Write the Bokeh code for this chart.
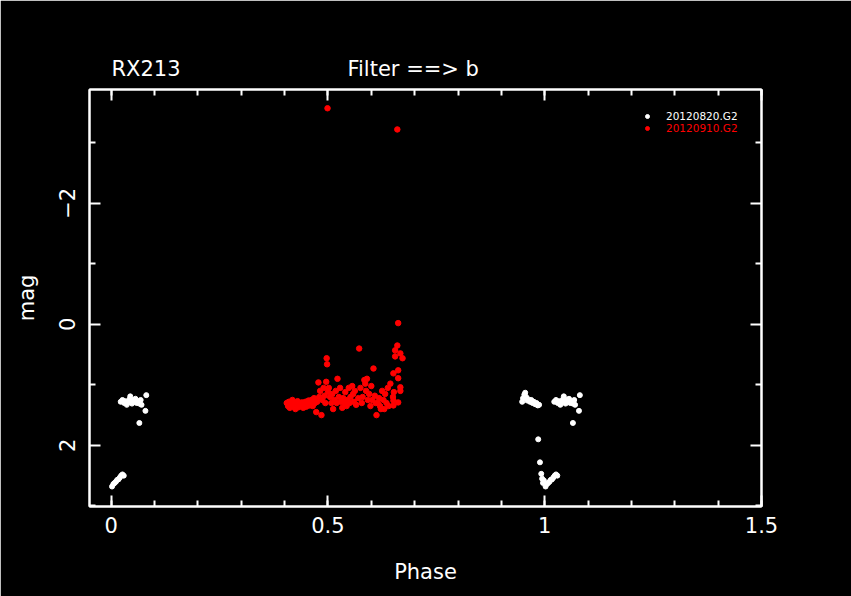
from bokeh.plotting import figure
from bokeh.models import (Range1d, FixedTicker, LinearAxis, Legend, LegendItem,
                          ColumnDataSource, Title)
from bokeh.embed import file_html
from bokeh.resources import INLINE

# ---------------- data ----------------
# 20120820.G2 (white): points seen only near phase 1 (0.95-1.0)
white_phase = [0.948, 0.950, 0.953, 0.955, 0.957, 0.960, 0.963, 0.966, 0.969, 0.972,
               0.975, 0.978, 0.981, 0.984, 0.987,
               0.985, 0.989, 0.992, 0.994, 0.996, 0.998]
white_mag = [1.28, 1.22, 1.16, 1.13, 1.20, 1.26, 1.24, 1.28, 1.25, 1.30,
             1.28, 1.32, 1.30, 1.34, 1.33,
             1.90, 2.28, 2.47, 2.55, 2.62, 2.58]
# 20120820.G2 (white): phases 0-0.08, plotted at phase and phase + 1
white_phase0 = [0.002, 0.005, 0.008, 0.011, 0.014, 0.017, 0.020, 0.023, 0.026, 0.029,
                0.022, 0.026, 0.030, 0.033, 0.036, 0.039, 0.042, 0.044, 0.046, 0.048,
                0.050, 0.053, 0.056, 0.059, 0.062, 0.065, 0.068, 0.070, 0.081, 0.079, 0.065]
white_mag0 = [2.68, 2.64, 2.62, 2.60, 2.57, 2.56, 2.53, 2.50, 2.48, 2.50,
              1.28, 1.25, 1.30, 1.27, 1.33, 1.29, 1.24, 1.19, 1.27, 1.31,
              1.25, 1.28, 1.23, 1.30, 1.27, 1.31, 1.25, 1.33, 1.17, 1.43, 1.63]

# 20120910.G2 (red)
red_phase = [0.405, 0.408, 0.410, 0.412, 0.415, 0.418, 0.420, 0.423, 0.425, 0.428,
             0.430, 0.432, 0.435, 0.438, 0.440, 0.443, 0.445, 0.448, 0.450, 0.453,
             0.455, 0.458, 0.460, 0.462, 0.465, 0.468, 0.470, 0.473, 0.475, 0.478,
             0.480, 0.482, 0.485, 0.487, 0.490, 0.492, 0.494, 0.496, 0.497, 0.498,
             0.499, 0.500, 0.502, 0.505, 0.508, 0.510, 0.512, 0.515, 0.518, 0.520,
             0.522, 0.525, 0.528, 0.530, 0.533, 0.535, 0.538, 0.540, 0.543, 0.545,
             0.548, 0.550, 0.552, 0.556, 0.558, 0.560, 0.562, 0.565, 0.572, 0.570,
             0.575, 0.578, 0.580, 0.584, 0.586, 0.588, 0.590, 0.592, 0.595, 0.598,
             0.600, 0.602, 0.605, 0.608, 0.610, 0.612, 0.615, 0.618, 0.620, 0.622,
             0.625, 0.628, 0.630, 0.632, 0.635, 0.638, 0.640, 0.644, 0.651, 0.655,
             0.655, 0.660, 0.660, 0.662, 0.662, 0.667, 0.672, 0.662, 0.651, 0.667,
             0.652, 0.667, 0.651, 0.662, 0.650]
red_mag = [1.30, 1.35, 1.28, 1.38, 1.32, 1.25, 1.36, 1.30, 1.40, 1.33,
           1.27, 1.37, 1.31, 1.35, 1.29, 1.38, 1.33, 1.28, 1.36, 1.30,
           1.26, 1.34, 1.30, 1.25, 1.35, 1.22, 1.30, 1.45, 1.28, 0.96,
           1.20, 1.10, 1.50, 1.25, 1.05, 1.18, 1.30, 0.95, 0.56, 0.66,
           -3.57, 1.12, 1.05, 1.20, 1.30, 1.15, 1.40, 1.25, 1.10, 1.30,
           0.90, 1.20, 1.05, 1.28, 1.38, 1.22, 1.30, 1.12, 1.35, 1.25,
           1.05, 1.30, 1.20, 1.02, 1.15, 1.28, 1.10, 1.33, 0.40, 1.22,
           1.05, 1.30, 1.20, 0.92, 0.98, 1.10, 0.90, 1.25, 1.15, 1.35,
           1.02, 1.25, 0.73, 1.18, 1.30, 1.50, 1.30, 1.22, 1.35, 1.40,
           1.10, 1.25, 1.40, 1.15, 1.30, 1.05, 1.35, 0.98, 0.81, 0.43,
           0.53, 0.35, -3.22, -0.02, 0.76, 0.48, 0.56, 0.89, 1.26, 1.10,
           1.12, 1.04, 1.34, 1.29, 1.20]

legend_labels = ["20120820.G2", "20120910.G2"]
object_name = "RX213"
filter_text = "Filter ==> b"
x_major = [0, 0.5, 1, 1.5]
x_minor = [round(0.1 * i, 1) for i in range(0, 16)]
y_major = [-2, 0, 2]
y_minor = [-3, -1, 1, 3]

FONT = "DejaVu Sans"
BIG = "21px"

p = figure(width=851, height=596, output_backend="svg", toolbar_location=None,
           x_range=Range1d(-0.05, 1.5), y_range=Range1d(3.01, -3.88),
           background_fill_color="black", border_fill_color="black",
           min_border_left=89, min_border_right=90, min_border_top=89, min_border_bottom=90,
           x_axis_label="Phase", y_axis_label="mag")
p.frame_width = 672
p.frame_height = 417
p.grid.visible = False
p.outline_line_color = "white"
p.outline_line_width = 2

# title line: object name and filter on one line (non-breaking spaces keep the gap)
p.title = Title(text=object_name + "\u00a0" * 25 + filter_text, align="left", offset=22,
                text_color="white", text_font=FONT, text_font_size=BIG,
                text_font_style="normal", standoff=18)

ws = ColumnDataSource(dict(x=white_phase0 + [v + 1 for v in white_phase0] + white_phase,
                           y=white_mag0 + white_mag0 + white_mag))
rs = ColumnDataSource(dict(x=red_phase, y=red_mag))
rw = p.scatter("x", "y", source=ws, size=5, color="white")
rr = p.scatter("x", "y", source=rs, size=5.5, color="red")


def style_axis(ax, ticks, minor, labels=True):
    ax.ticker = FixedTicker(ticks=ticks, minor_ticks=minor)
    ax.axis_line_color = "white"
    ax.axis_line_width = 2
    ax.major_tick_line_color = "white"
    ax.minor_tick_line_color = "white"
    ax.major_tick_line_width = 2
    ax.minor_tick_line_width = 2
    ax.major_tick_in = 11
    ax.major_tick_out = 0
    ax.minor_tick_in = 6
    ax.minor_tick_out = 0
    ax.major_label_text_color = "white"
    ax.major_label_text_font = FONT
    ax.major_label_text_font_size = BIG
    ax.axis_label_text_color = "white"
    ax.axis_label_text_font = FONT
    ax.axis_label_text_font_size = BIG
    ax.axis_label_text_font_style = "normal"
    if not labels:
        ax.major_label_text_color = None
        ax.major_label_text_font_size = "1px"
        ax.major_label_standoff = 0


style_axis(p.xaxis[0], x_major, x_minor)
style_axis(p.yaxis[0], y_major, y_minor)
p.xaxis[0].major_label_standoff = 10
p.xaxis[0].axis_label_standoff = 24
p.yaxis[0].major_label_orientation = "vertical"
p.yaxis[0].major_label_standoff = 14
p.yaxis[0].axis_label_standoff = 18

top = LinearAxis()
style_axis(top, x_major, x_minor, labels=False)
p.add_layout(top, "above")
right = LinearAxis()
style_axis(right, y_major, y_minor, labels=False)
p.add_layout(right, "right")

# legends (one per series so each label keeps its series colour)
for r, lab, col, ypos in [(rw, legend_labels[0], "white", 384), (rr, legend_labels[1], "red", 372)]:
    lg = Legend(items=[LegendItem(label=lab, renderers=[r])], location=(553, ypos),
                background_fill_alpha=0, border_line_alpha=0, padding=0, margin=0,
                spacing=0, glyph_width=10, glyph_height=10, label_height=10,
                label_standoff=14, label_text_color=col, label_text_font=FONT,
                label_text_font_size="10.5px", label_text_baseline="middle")
    p.add_layout(lg)

open("out.html", "w").write(file_html(p, INLINE))
